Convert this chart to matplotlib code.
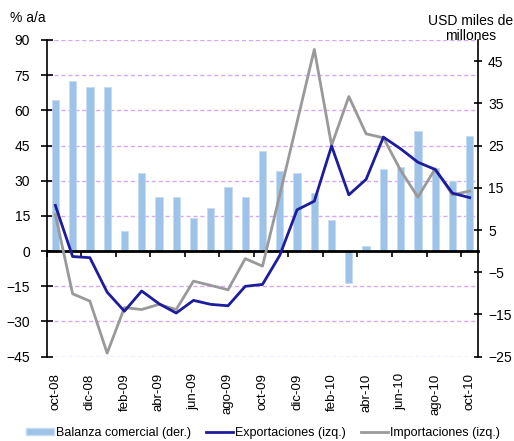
import numpy as np
import matplotlib
matplotlib.use("Agg")
import matplotlib.pyplot as plt
from matplotlib.patches import Patch
from matplotlib.lines import Line2D

plt.rcParams['font.family'] = ['Liberation Sans', 'DejaVu Sans']
plt.rcParams['font.size'] = 10

months = ['oct-08', 'nov-08', 'dic-08', 'ene-09', 'feb-09', 'mar-09', 'abr-09', 'may-09',
          'jun-09', 'jul-09', 'ago-09', 'sep-09', 'oct-09', 'nov-09', 'dic-09', 'ene-10',
          'feb-10', 'mar-10', 'abr-10', 'may-10', 'jun-10', 'jul-10', 'ago-10', 'sep-10', 'oct-10']
# USD miles de millones (eje der.)
balanza = [35.8, 40.4, 38.9, 38.9, 4.7, 18.4, 12.9, 12.9, 7.8, 10.1, 15.3, 12.7, 23.8,
           18.9, 18.4, 13.8, 7.3, -7.6, 1.3, 19.5, 20.0, 28.5, 19.7, 16.7, 27.2]
# % a/a (eje izq.)
exportaciones = [19.5, -2.3, -2.8, -17.5, -25.6, -17.0, -22.4, -26.4, -21.0, -22.7, -23.3, -15.0,
                 -14.2, -1.8, 17.6, 21.3, 44.8, 24.0, 30.6, 48.6, 43.6, 37.9, 34.8, 24.7, 22.8]
importaciones = [15.6, -18.2, -21.3, -43.5, -24.1, -24.9, -22.7, -24.9, -12.8, -14.6, -16.5, -3.2,
                 -6.4, 24.0, 55.0, 86.0, 45.1, 65.9, 50.0, 48.3, 34.4, 23.0, 35.1, 24.0, 25.6]
left_ticks = [-45, -30, -15, 0, 15, 30, 45, 60, 75, 90]
right_ticks = [-25, -15, -5, 5, 15, 25, 35, 45]

x = np.arange(len(months))
blue = '#1c1c9c'
gray = '#999999'
barc = '#9dc3e9'
gridc = '#d4a8f8'

fig = plt.figure(figsize=(5.14, 4.41), dpi=100)
rect = [0.0909, 0.1912, 0.8397, 0.7181]
ax = fig.add_axes(rect)
ax2 = ax.twinx()
ax3 = fig.add_axes(rect)

# left axis + grid (bottom layer)
ax.set_xlim(-0.5, len(months) - 0.5)
ax.set_ylim(-45, 90)
ax.set_yticks(left_ticks)
for v in left_ticks:
    if v != 0:
        ax.axhline(v, color=gridc, lw=1, ls=(0, (3, 2)), zorder=0)
for s in ['top', 'right', 'bottom']:
    ax.spines[s].set_visible(False)
ax.spines['left'].set_linewidth(1.2)
ax.tick_params(axis='y', direction='inout', length=8, width=1.2, pad=8, labelsize=10)
ax.set_xticks(x[::2])
ax.set_xticklabels(months[::2], rotation=90, va='top', ha='center')
ax.tick_params(axis='x', length=0, pad=12, labelsize=9.5)

# bars on right axis
ax2.bar(x, balanza, width=0.42, color=barc, edgecolor='#c6dbf2', linewidth=0.6, zorder=2)
ax2.set_ylim(-25, 50)
ax2.set_yticks(right_ticks)
for s in ['top', 'left', 'bottom']:
    ax2.spines[s].set_visible(False)
ax2.spines['right'].set_linewidth(1.2)
ax2.tick_params(axis='y', direction='inout', length=6, width=1.2, pad=4, labelsize=10)

# lines on top layer, same scale as left axis
ax3.patch.set_visible(False)
ax3.set_xlim(-0.5, len(months) - 0.5)
ax3.set_ylim(-45, 90)
for s in ['top', 'left', 'right']:
    ax3.spines[s].set_visible(False)
ax3.spines['bottom'].set_position(('data', 0))
ax3.spines['bottom'].set_linewidth(2)
ax3.set_yticks([])
ax3.set_xticks(np.arange(-0.5, len(months) - 0.5, 2))
ax3.tick_params(axis='x', direction='out', length=4, width=1.2, labelbottom=False)
ax3.plot(x, importaciones, color=gray, lw=2, zorder=3)
ax3.plot(x, exportaciones, color=blue, lw=2, zorder=4)

fig.text(0.02, 0.959, '% a/a', fontsize=10, va='center', ha='left')
fig.text(0.915, 0.935, 'USD miles de\nmillones', fontsize=10, va='center', ha='center',
         multialignment='center', linespacing=1.1)

handles = [Patch(facecolor=barc, edgecolor='#c6dbf2'),
           Line2D([], [], color=blue, lw=2),
           Line2D([], [], color=gray, lw=2)]
labels = ['Balanza comercial (der.)', 'Exportaciones (izq.)', 'Importaciones (izq.)']
fig.legend(handles, labels, loc='center', bbox_to_anchor=(0.512, 0.018), ncol=3, frameon=False,
           fontsize=9, handlelength=2.2, handleheight=0.55, handletextpad=0.15, columnspacing=1.2,
           borderpad=0)

fig.savefig('out.png', dpi=100)
